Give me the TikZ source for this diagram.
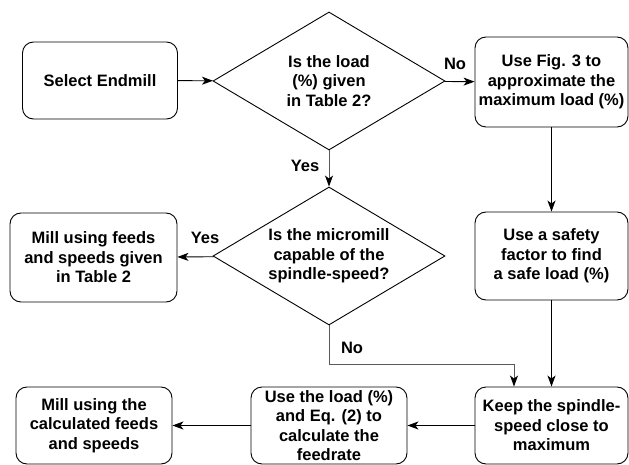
\documentclass[tikz,border=0pt]{standalone}
\usepackage{fontspec}
\setmainfont{Liberation Sans}
\usetikzlibrary{shapes,arrows.meta,positioning}

\begin{document}
\begin{tikzpicture}[x=1pt, y=-1pt, thick]
    % Styles
    \tikzstyle{stepbox} = [rectangle, draw, rounded corners=11pt, line width=0.9pt, align=center, inner sep=0pt,
        font=\fontsize{16.5}{19.6}\selectfont\bfseries]
    \tikzstyle{decision} = [diamond, draw, aspect=1.68, line width=0.9pt, align=center, inner sep=0pt,
        minimum width=232pt, minimum height=138pt, font=\fontsize{16.5}{19.6}\selectfont\bfseries]
    \tikzstyle{arrow} = [-{Stealth[length=11pt, width=8pt, inset=3pt]}, line width=0.9pt]
    \tikzstyle{garrow} = [-{Stealth[length=11pt, width=8pt, inset=3pt, black]}, line width=0.9pt, draw=black!65]
    \tikzstyle{answer} = [font=\fontsize{16.5}{19.6}\selectfont\bfseries, inner sep=0pt]

    \useasboundingbox (0,0) rectangle (629,465);

    % Left column
    \node [stepbox, minimum width=155pt, minimum height=77pt] (select) at (100,80.5) {Select Endmill};
    \node [stepbox, minimum width=167pt, minimum height=89pt] (milltable) at (93.5,257.5) {Mill using feeds\\and speeds given\\in Table 2};
    \node [stepbox, minimum width=156pt, minimum height=77pt] (millcalc) at (94,425.5) {Mill using the\\calculated feeds\\and speeds};

    % Middle column
    \node [decision] (qload) at (329,81) {Is the load\\(\%) given\\in Table 2?};
    \node [decision] (qspeed) at (329,256) {Is the micromill\\capable of the\\spindle-speed?};
    \node [stepbox, minimum width=156pt, minimum height=77pt] (useload) at (329,425.5) {Use the load (\%)\\and Eq. (2) to\\calculate the\\feedrate};

    % Right column
    \node [stepbox, minimum width=153pt, minimum height=90pt] (figthree) at (551.5,82) {Use Fig. 3 to\\approximate the\\maximum load (\%)};
    \node [stepbox, minimum width=153pt, minimum height=88pt] (safety) at (551.5,256) {Use a safety\\factor to find\\a safe load (\%)};
    \node [stepbox, minimum width=153pt, minimum height=77pt] (keep) at (551.5,425.5) {Keep the spindle-\\speed close to\\maximum};

    % Connections
    \draw [arrow] (select) -- (qload);
    \draw [arrow] (qload) -- (figthree);
    \draw [garrow] (qload) -- (qspeed);
    \draw [arrow] (figthree) -- (safety);
    \draw [arrow] (safety) -- (keep);
    \draw [arrow] (qspeed) -- (milltable);
    \draw [garrow] (qspeed.south) -- ++(0,39) -| ([xshift=-37.5pt]keep.north);
    \draw [arrow] (keep) -- (useload);
    \draw [arrow] (useload) -- (millcalc);

    % Labels
    \node [answer] (lno) at (455,64) {No};
    \node [answer] (lyes) at (305,166) {Yes};
    \node [answer] (ryes) at (205,238) {Yes};
    \node [answer] (rno) at (352,348) {No};

\end{tikzpicture}
\end{document}
